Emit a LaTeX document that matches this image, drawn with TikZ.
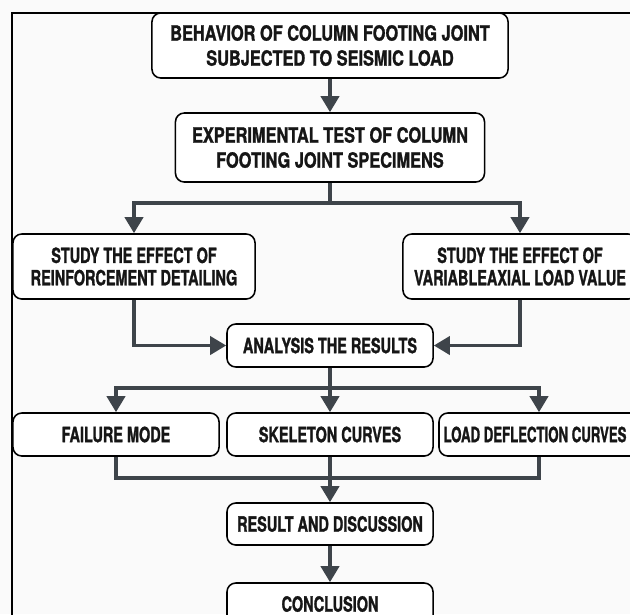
\documentclass[tikz,border=0pt]{standalone}
\usepackage{fontspec}
\setmainfont{TeX Gyre Heros}[FakeStretch=0.69, BoldFeatures={FakeBold=1.2}]
\newfontfamily\widefont{TeX Gyre Heros}[FakeStretch=0.78, BoldFeatures={FakeBold=1.2}]
\newfontfamily\narrowfont{TeX Gyre Heros}[FakeStretch=0.63, BoldFeatures={FakeBold=1.2}]
\usetikzlibrary{arrows.meta}
\definecolor{linegray}{HTML}{3E444A}
\definecolor{paper}{HTML}{FAFAFA}
\definecolor{ink}{HTML}{161616}

\begin{document}
\begin{tikzpicture}[x=0.025cm, y=-0.025cm]
	\useasboundingbox (0,0) rectangle (630,614);
	\clip (0,0) rectangle (630,614);
	\fill[paper] (0,0) rectangle (630,614);
	\draw[line width=1.1pt] (12,13) rectangle (700,700);
	\tikzstyle{box}=[draw=black, fill=white, line width=1.1pt, rounded corners=0.22cm, align=center, inner sep=0pt, text=ink, font=\bfseries\fontsize{14.9}{15.9}\selectfont]
	\tikzstyle{wide}=[box, minimum height=1.625cm]
	\tikzstyle{head}=[wide, font=\widefont\bfseries\fontsize{14.9}{17.8}\selectfont]
	\tikzstyle{slim}=[box, minimum width=5.15cm, minimum height=1.075cm]

	\node[head, minimum width=8.9cm] 	(BH) at (330,45.5) {BEHAVIOR OF COLUMN FOOTING JOINT\\SUBJECTED TO SEISMIC LOAD};
	\node[head, minimum width=7.725cm, minimum height=1.725cm] 	(ET) at (330,147.5) {EXPERIMENTAL TEST OF COLUMN\\FOOTING JOINT SPECIMENS};
	\node[wide, minimum width=6.05cm] 	(RD) at (134,266.5) {STUDY THE EFFECT OF\\REINFORCEMENT DETAILING};
	\node[wide, minimum width=5.85cm] 	(AL) at (520,266.5) {STUDY THE EFFECT OF\\VARIABLEAXIAL LOAD VALUE};
	\node[slim] 	(AR) at (330,345.5) {ANALYSIS THE RESULTS};
	\node[slim] 	(FM) at (116,434.5) {FAILURE MODE};
	\node[slim] 	(SC) at (330,434.5) {SKELETON CURVES};
	\node[slim, minimum width=5cm] 	(LD) at (539,434.5) {{\narrowfont\bfseries LOAD DEFLECTION CURVES}\hspace*{0.2cm}};
	\node[slim, minimum height=1.05cm] 	(RS) at (330,524) {RESULT AND DISCUSSION};
	\node[slim, minimum height=1.05cm] 	(CN) at (330,604) {CONCLUSION};

	\coordinate (S1) at (330,203);
	\coordinate (S2) at (330,388);
	\coordinate (S3) at (330,478);

	\begin{scope}[-{Triangle[length=0.4cm,width=0.45cm]}, line width=2.6pt, draw=linegray, fill=linegray]
		\draw	(BH) -- (ET);
		\draw	(ET.south) -- (S1) -| (RD.north);
		\draw	(ET.south) -- (S1) -| (AL.north);
		\draw	(RD.south) |- (AR.west);
		\draw	(AL.south) |- (AR.east);
		\draw	(AR.south) -- (S2) -| (FM.north);
		\draw	(AR.south) -- (SC.north);
		\draw	(AR.south) -- (S2) -| (LD.north);
		\draw[-]	(FM.south) |- (S3) -| (LD.south);
		\draw	(SC.south) -- (RS.north);
		\draw	(RS) -- (CN);
	\end{scope}
\end{tikzpicture}
\end{document}
